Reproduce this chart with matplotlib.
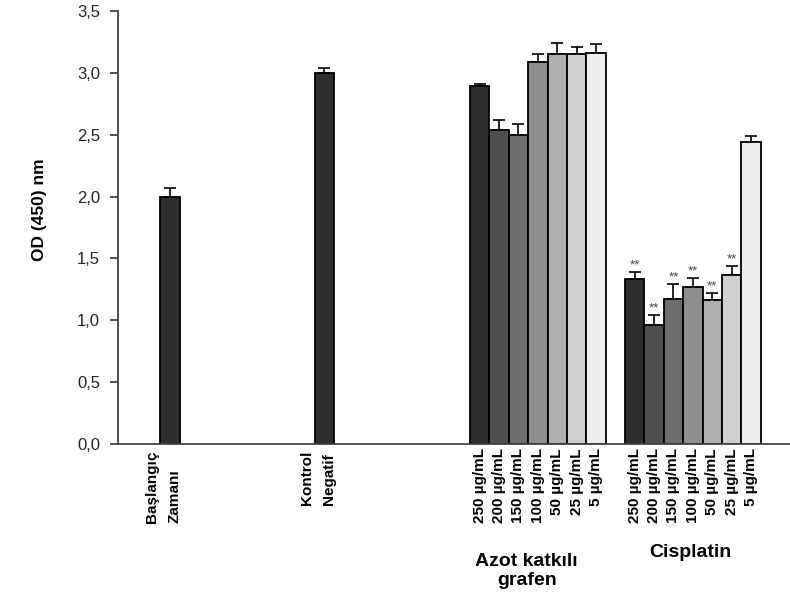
import matplotlib
matplotlib.use("Agg")
import matplotlib.pyplot as plt
import numpy as np

plt.rcParams["font.family"] = ["Liberation Sans", "DejaVu Sans"]

# data
single_labels = ["Başlangıç\nZamanı", "Kontrol\nNegatif"]
single_vals = [2.00, 3.00]
single_err = [0.07, 0.04]

conc_labels = ["250 µg/mL", "200 µg/mL", "150 µg/mL", "100 µg/mL",
               "50 µg/mL", "25 µg/mL", "5 µg/mL"]
azot_vals = [2.89, 2.54, 2.50, 3.09, 3.15, 3.15, 3.16]
azot_err = [0.02, 0.08, 0.09, 0.06, 0.09, 0.06, 0.07]
cis_vals = [1.33, 0.96, 1.17, 1.27, 1.16, 1.37, 2.44]
cis_err = [0.06, 0.08, 0.12, 0.07, 0.06, 0.07, 0.05]
cis_sig = ["**", "**", "**", "**", "**", "**", ""]

group_names = ["Azot katkılı\ngrafen", "Cisplatin"]
greys = ["#2e2e2e", "#4f4f4f", "#6e6e6e", "#8e8e8e", "#b0b0b0", "#d0d0d0", "#eeeeee"]

# layout
single_x = np.array([2.68, 10.64])
azot_x = 18.64 + np.arange(len(azot_vals))
cis_x = 26.63 + np.arange(len(cis_vals))

fig = plt.figure(figsize=(7.9, 5.94), dpi=100)
ax = fig.add_axes([118/790, 150/594, 1 - 118/790, 433/594])

bar_kw = dict(width=1.0, edgecolor="black", linewidth=1.3, zorder=2)
err_kw = dict(fmt="none", ecolor="black", elinewidth=1.2, capsize=4.5,
              capthick=1.2, zorder=1)

ax.bar(single_x, single_vals, color=greys[0], **bar_kw)
ax.errorbar(single_x, single_vals, yerr=[np.zeros(2), single_err], **err_kw)

ax.bar(azot_x, azot_vals, color=greys, **bar_kw)
ax.errorbar(azot_x, azot_vals, yerr=[np.zeros(7), azot_err], **err_kw)

ax.bar(cis_x, cis_vals, color=greys, **bar_kw)
ax.errorbar(cis_x, cis_vals, yerr=[np.zeros(7), cis_err], **err_kw)

for x, v, e, s in zip(cis_x, cis_vals, cis_err, cis_sig):
    if s:
        ax.text(x, v + e + 0.005, s, ha="center", va="bottom", fontsize=9.5,
                color="#444444")

ax.set_xlim(0, 672/19.4)
ax.set_ylim(0, 3.5)
ticks = np.arange(0, 3.51, 0.5)
ax.set_yticks(ticks)
ax.set_yticklabels([f"{t:.1f}".replace(".", ",") for t in ticks])
ax.tick_params(axis="y", direction="out", length=6, width=1.2, colors="#333333",
               labelsize=12, labelcolor="#222222", pad=7)
ax.set_xticks([])
for side in ["top", "right"]:
    ax.spines[side].set_visible(False)
for side in ["left", "bottom"]:
    ax.spines[side].set_color("#444444")
    ax.spines[side].set_linewidth(1.3)

ax.set_ylabel("OD (450) nm", fontsize=12.5, fontweight="bold")
ax.yaxis.set_label_coords(-0.106, 0.54)

# category labels under the axis
for x, lab in zip(single_x, single_labels):
    ax.text(x - 0.34, -0.015, lab, rotation=90, ha="center", va="top",
            multialignment="left", fontsize=11, fontweight="bold",
            transform=ax.get_xaxis_transform(), linespacing=1.75)
for xs in (azot_x, cis_x):
    for x, lab in zip(xs, conc_labels):
        ax.text(x, -0.01, lab, rotation=90, ha="center", va="top",
                fontsize=11, fontweight="bold",
                transform=ax.get_xaxis_transform())

for xs, name, y, dx in zip((azot_x, cis_x), group_names, (-0.252, -0.232), (-0.57, -0.15)):
    ax.text(xs.mean() + dx, y, name, ha="center", va="top", fontsize=14,
            fontweight="bold", transform=ax.get_xaxis_transform(),
            linespacing=1.15)

fig.savefig("out.png", dpi=100)
